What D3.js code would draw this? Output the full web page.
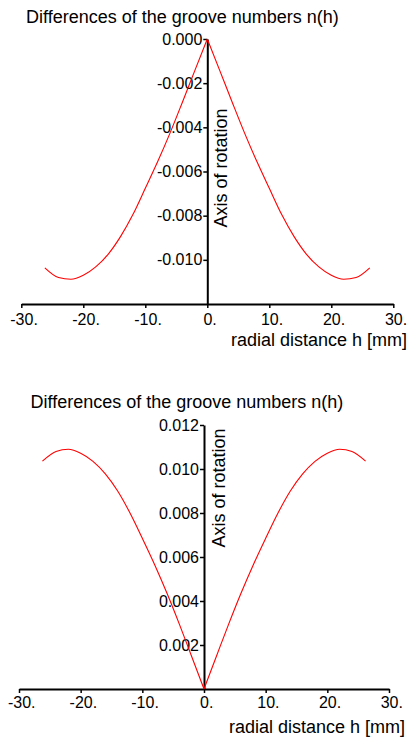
<!DOCTYPE html>
<html lang="en">
<head>
<meta charset="UTF-8">
<title>Differences of the groove numbers n(h)</title>
<script src="https://d3js.org/d3.v7.min.js"></script>
<style>
  body { margin: 0; background: #fff; }
  svg { display: block; font-family: "Liberation Sans", Arial, sans-serif; }
</style>
</head>
<body>
<svg id="chart"></svg>
<script>
// radial distance h [mm]
const radialH = [-26.2, -24, -22, -20, -18, -16, -14, -12, -10, -8, -6, -4, -2, 0,
                 2, 4, 6, 8, 10, 12, 14, 16, 18, 20, 22, 24, 26.2];

// upper panel: n(h), negative
const grooveDiffLow = [-0.01036, -0.01080, -0.01088, -0.01070, -0.01032, -0.00975, -0.00895,
                       -0.00795, -0.00676, -0.00555, -0.00425, -0.00285, -0.00142, 0,
                       -0.00142, -0.00285, -0.00425, -0.00555, -0.00676, -0.00795, -0.00895,
                       -0.00975, -0.01032, -0.01070, -0.01088, -0.01080, -0.01036];

// lower panel: n(h), positive
const grooveDiffHigh = [0.01036, 0.01080, 0.01090, 0.01072, 0.01035, 0.00978, 0.00900,
                        0.00800, 0.00685, 0.00565, 0.00435, 0.00295, 0.00148, 0,
                        0.00148, 0.00295, 0.00435, 0.00565, 0.00685, 0.00800, 0.00900,
                        0.00978, 0.01035, 0.01072, 0.01090, 0.01080, 0.01036];

const xTicks = [-30, -20, -10, 0, 10, 20, 30];
const yTicksLow = [0, -0.002, -0.004, -0.006, -0.008, -0.010];
const yTicksHigh = [0.002, 0.004, 0.006, 0.008, 0.010, 0.012];

const width = 410, height = 742;
const svg = d3.select("#chart").attr("width", width).attr("height", height);

function drawPanel(p) {
    const x = d3.scaleLinear().domain([-30, 30]).range(p.xRange);
    const y = d3.scaleLinear().domain(p.yDomain).range(p.yRange);
    const g = svg.append("g");

    g.append("text")
        .attr("x", p.titleX).attr("y", p.titleY)
        .style("font-size", "18px")
        .text("Differences of the groove numbers n(h)");

    // x axis
    const xa = g.append("g")
        .attr("transform", `translate(0,${p.yRange[0]})`)
        .call(d3.axisBottom(x).tickValues(xTicks).tickSize(4).tickSizeOuter(0)
            .tickPadding(p.xPad).tickFormat(d => d + "."));
    xa.select(".domain").attr("stroke-width", 2);
    xa.selectAll(".tick line").attr("stroke-width", 1.5);
    xa.selectAll(".tick text").attr("dx", "0.14em").style("font-size", "16px")
        .attr("font-family", null).attr("fill", "#000");

    // y axis on the axis of rotation
    const ya = g.append("g")
        .attr("transform", `translate(${x(0)},0)`)
        .call(d3.axisLeft(y).tickValues(p.yTicks).tickSize(4).tickSizeOuter(0)
            .tickPadding(1).tickFormat(d => d.toFixed(3)));
    ya.select(".domain").attr("stroke-width", 2);
    ya.selectAll(".tick line").attr("stroke-width", 1.5);
    ya.selectAll(".tick text").style("font-size", "16px")
        .attr("font-family", null).attr("fill", "#000");

    g.append("text")
        .attr("transform", `translate(${p.rotX},${p.rotY}) rotate(-90)`)
        .attr("text-anchor", "middle")
        .style("font-size", "18px")
        .text("Axis of rotation");

    g.append("text")
        .attr("x", p.xLabelX).attr("y", p.xLabelY)
        .attr("text-anchor", "end")
        .style("font-size", "18px")
        .text("radial distance h [mm]");

    const line = d3.line()
        .x((d, i) => x(d[0])).y(d => y(d[1]))
        .curve(d3.curveMonotoneX);
    const pts = radialH.map((h, i) => [h, p.values[i]]);
    const left = pts.filter(d => d[0] <= 0);
    const right = pts.filter(d => d[0] >= 0);
    [left, right].forEach(part => {
        g.append("path")
            .attr("d", line(part))
            .attr("fill", "none")
            .attr("stroke", "#ff0000")
            .attr("stroke-width", 1.1);
    });
}

drawPanel({
    xRange: [21.3, 393.3], yDomain: [-0.012, 0], yRange: [304, 39],
    yTicks: yTicksLow, values: grooveDiffLow, xPad: 6,
    titleX: 26, titleY: 22.5, rotX: 227, rotY: 168,
    xLabelX: 407, xLabelY: 346
});

drawPanel({
    xRange: [19, 389], yDomain: [0, 0.012], yRange: [689, 425],
    yTicks: yTicksHigh, values: grooveDiffHigh, xPad: 4,
    titleX: 30.5, titleY: 408, rotX: 225, rotY: 488,
    xLabelX: 405, xLabelY: 733
});
</script>
</body>
</html>
